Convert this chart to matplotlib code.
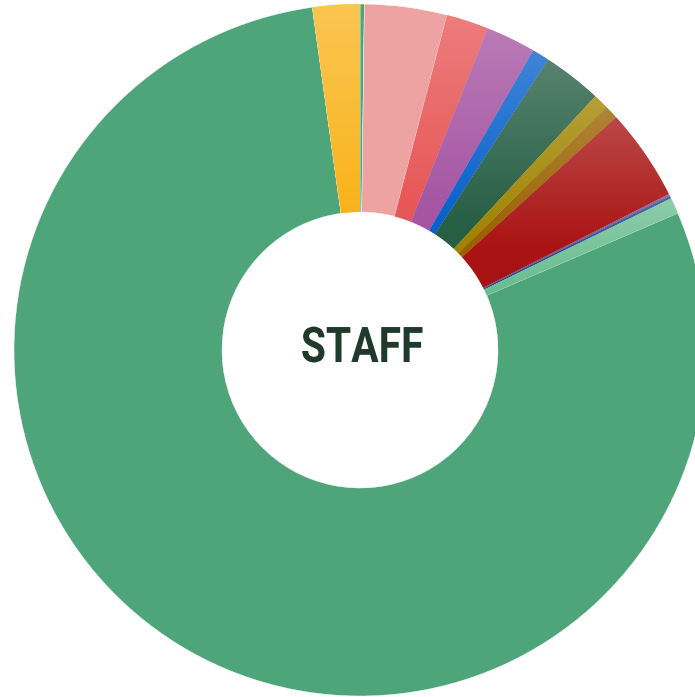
import numpy as np
import matplotlib
matplotlib.use("Agg")
import matplotlib.pyplot as plt
from matplotlib.colors import to_rgb
from matplotlib.patheffects import AbstractPathEffect
from matplotlib.transforms import Affine2D

# Data (share of staff, %), clockwise from 12 o'clock
categories = ["A", "B", "C", "D", "E", "F", "G", "H", "I", "J", "K", "L", "M", "N"]
values = [0.2, 3.85, 1.97, 2.33, 0.8, 2.75, 0.72, 0.64, 4.3, 0.1, 0.12, 0.75, 79.27, 2.2]
colors = ["#4FA57A", "#EEA3A3", "#E85858", "#A656A3", "#0A62CC", "#286046",
          "#A08500", "#9A6200", "#AA1414", "#6E4C8C", "#1E3F88", "#6CBF92",
          "#4FA57A", "#F9B520"]
gradient = [False, False, True, True, True, True, True, True, True, True, True, True, False, True]
center_label = "STAFF"

W, H = 695, 697
cx, cy, R, r_in = 360, 350, 346, 138
text_x = 362

fig = plt.figure(figsize=(W / 100, H / 100), dpi=100)
ax = fig.add_axes([0, 0, 1, 1])
ax.axis("off")

wedges, _ = ax.pie(values, colors=colors, startangle=90, counterclock=False,
                   radius=1.0, wedgeprops=dict(width=1 - r_in / R, edgecolor="white",
                                               linewidth=0.3))


def mix(c, t, a):
    c = np.array(to_rgb(c)); t = np.array(t)
    return c * (1 - a) + t * a


for w, col, g in zip(wedges, colors, gradient):
    if not g:
        continue
    v = w.get_path().vertices
    xmin, xmax = v[:, 0].min(), v[:, 0].max()
    ymin, ymax = v[:, 1].min(), v[:, 1].max()
    n = 200
    s = np.linspace(0, 1, n)  # 0 = top, 1 = bottom
    top = mix(col, (1, 1, 1), 0.22)
    mid = np.array(to_rgb(col))
    bot = mix(col, (0, 0, 0), 0.07)
    img = np.zeros((n, 1, 3))
    for i, t in enumerate(s):
        if t < 0.55:
            a = t / 0.55
            img[i, 0] = top * (1 - a) + mid * a
        else:
            a = (t - 0.55) / 0.45
            img[i, 0] = mid * (1 - a) + bot * a
    im = ax.imshow(img, extent=[xmin, xmax, ymin, ymax], aspect="auto",
                   interpolation="bilinear", origin="upper", zorder=w.get_zorder() + 0.1)
    im.set_clip_path(w)


class Condense(AbstractPathEffect):
    """Horizontally condense the glyphs about a display x position."""
    def __init__(self, x0, sx):
        super().__init__()
        self.x0, self.sx = x0, sx

    def draw_path(self, renderer, gc, tpath, affine, rgbFace=None):
        aff = affine + Affine2D().translate(-self.x0, 0).scale(self.sx, 1).translate(self.x0, 0)
        renderer.draw_path(gc, tpath, aff, rgbFace)


ax.text((text_x - cx) / R, (cy - 362) / R, center_label, ha="center", va="baseline",
        fontsize=35.4, fontweight="bold", color="#1F3A2C",
        family=["Roboto", "DejaVu Sans"], zorder=10,
        path_effects=[Condense(text_x * fig.dpi / 100, 0.83)])

ax.set_xlim(-cx / R, (W - cx) / R)
ax.set_ylim(-(H - cy) / R, cy / R)
ax.set_aspect("auto")

fig.savefig("out.png", dpi=100)
